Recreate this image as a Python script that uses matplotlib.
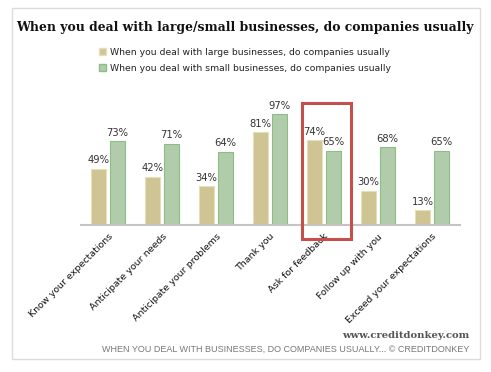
import matplotlib
matplotlib.use("Agg")
import matplotlib.pyplot as plt
from matplotlib.patches import Rectangle, Patch
import numpy as np

categories = ["Know your expectations", "Anticipate your needs", "Anticipate your problems",
              "Thank you", "Ask for feedback", "Follow up with you", "Exceed your expectations"]
large = [49, 42, 34, 81, 74, 30, 13]
small = [73, 71, 64, 97, 65, 68, 65]
series_names = ["When you deal with large businesses, do companies usually",
                "When you deal with small businesses, do companies usually"]
title = "When you deal with large/small businesses, do companies usually"
site = "www.creditdonkey.com"
footer = "WHEN YOU DEAL WITH BUSINESSES, DO COMPANIES USUALLY... \u00a9 CREDITDONKEY"

W, H = 491, 372
fig = plt.figure(figsize=(W/100, H/100), dpi=100)
fig.patch.set_facecolor("white")

# card
fig.add_artist(Rectangle((12/W, 1-359/H), 468/W, 351/H, transform=fig.transFigure,
                         facecolor="white", edgecolor="#dcdcdc", lw=1.0, zorder=0))

ax = fig.add_axes([81/W, 1-225/H, 379/W, 114.4/H])
ax.set_facecolor("none")
x = np.arange(len(categories))
bw = 15/54
off = 9.5/54
c_large, e_large = "#cfc493", "#e6dfb8"
c_small, e_small = "#b1ccab", "#8dbd86"
ax.bar(x-off, large, bw, color=c_large, edgecolor=e_large, lw=0.8, zorder=2)
ax.bar(x+off, small, bw, color=c_small, edgecolor=e_small, lw=0.8, zorder=2)
for xi, v in zip(x-off, large):
    ax.annotate(f"{v}%", (xi, v), xytext=(0, 2.5), textcoords="offset points",
                ha="center", va="bottom", fontsize=7.2, color="#333333", family="DejaVu Sans")
for xi, v in zip(x+off, small):
    ax.annotate(f"{v}%", (xi, v), xytext=(0, 2.5), textcoords="offset points",
                ha="center", va="bottom", fontsize=7.2, color="#333333", family="DejaVu Sans")
ax.set_xlim(-0.5, 6.52)
ax.set_ylim(0, 100)
for s in ["top", "right", "left"]:
    ax.spines[s].set_visible(False)
ax.spines["bottom"].set_color("#c4c4c4")
ax.spines["bottom"].set_linewidth(1.5)
ax.set_yticks([])
ax.set_xticks(x)
ax.set_xticklabels(categories, rotation=45, ha="right", va="top", rotation_mode="anchor",
                   fontsize=6.8, color="#111111")
ax.tick_params(axis="x", length=0, pad=5)

fig.text(245/W, 1-28/H, title, ha="center", va="center", fontsize=8.9,
         fontweight="bold", family="DejaVu Serif", color="#111111")

handles = [Patch(facecolor=c_large, edgecolor=e_large), Patch(facecolor=c_small, edgecolor=e_small)]
fig.legend(handles, series_names, loc="upper left", bbox_to_anchor=(99/W, 1-48/H),
           frameon=False, fontsize=6.7, handlelength=0.8, handleheight=0.8,
           handletextpad=0.35, labelspacing=0.75, borderpad=0, borderaxespad=0,
           labelcolor="#222222")

fig.text(469/W, 1-336/H, site, ha="right", va="center", fontsize=7.2, fontweight="bold",
         family="DejaVu Serif", color="#555555")
fig.text(469/W, 1-349/H, footer, ha="right", va="center", fontsize=6.5,
         family="Liberation Sans", color="#777777")

fig.add_artist(Rectangle((302/W, 1-239/H), 49/W, 136/H, transform=fig.transFigure,
                         facecolor="none", edgecolor="#c44f4c", lw=2.2, zorder=10))

fig.savefig("out.png", dpi=100)
